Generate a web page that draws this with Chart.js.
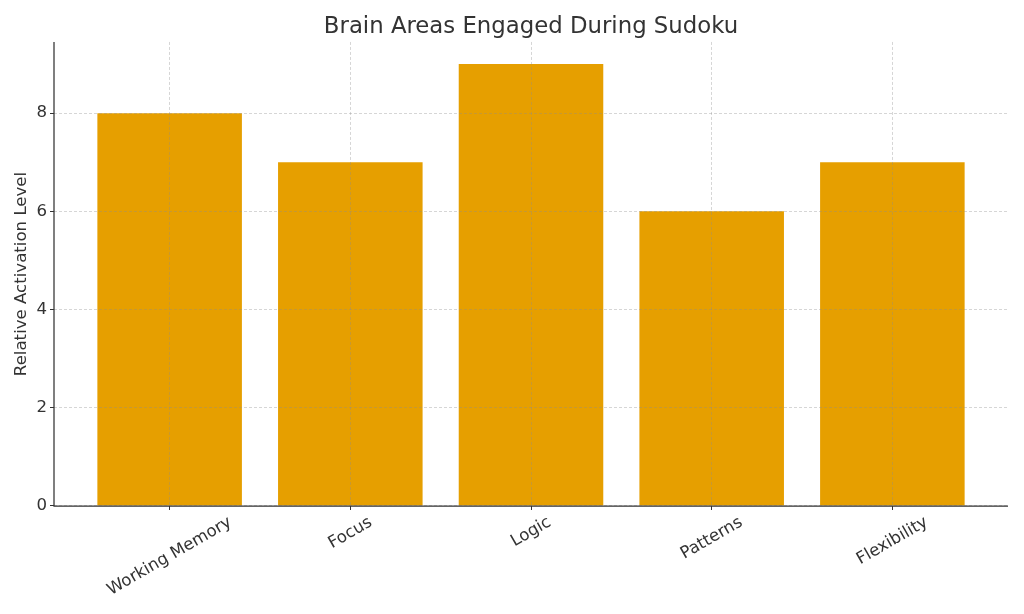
<!DOCTYPE html>
<html>
<head>
<meta charset="utf-8">
<script src="https://cdn.jsdelivr.net/npm/chart.js@4/dist/chart.umd.min.js"></script>
<style>
  html,body{margin:0;padding:0;background:#fff;}
  #wrap{width:1024px;height:614px;}
</style>
</head>
<body>
<div id="wrap"><canvas id="c" width="1024" height="614"></canvas></div>
<script>
const categories = ["Working Memory", "Focus", "Logic", "Patterns", "Flexibility"];
const activation = [8, 7, 9, 6, 7];
const yTicks = [0, 2, 4, 6, 8];

const FONT = "'DejaVu Sans', sans-serif";
const TEXT = '#333333';
const TICKFONT = 16.6;

const axesAndLabels = {
  id: 'axesAndLabels',
  afterDraw(chart) {
    const xs = chart.scales.x;
    const ca = chart.chartArea;
    const ctx = chart.ctx;
    ctx.save();
    // axis spines (left and bottom)
    ctx.strokeStyle = TEXT;
    ctx.lineWidth = 1.25;
    ctx.setLineDash([]);
    ctx.beginPath();
    ctx.moveTo(ca.left, ca.top);
    ctx.lineTo(ca.left, ca.bottom);
    ctx.lineTo(ca.right, ca.bottom);
    ctx.stroke();
    // rotated category labels, centred under each tick
    ctx.font = TICKFONT + 'px ' + FONT;
    ctx.fillStyle = TEXT;
    ctx.textAlign = 'center';
    ctx.textBaseline = 'middle';
    const a = 30 * Math.PI / 180;
    const top = ca.bottom + 8;
    categories.forEach((lab, i) => {
      const w = ctx.measureText(lab).width;
      const h = TICKFONT * 1.0;
      const bh = w * Math.sin(a) + h * Math.cos(a);
      const cx = xs.getPixelForValue(i);
      const cy = top + bh / 2;
      ctx.save();
      ctx.translate(cx, cy);
      ctx.rotate(-a);
      ctx.fillText(lab, 0, 0);
      ctx.restore();
    });
    ctx.restore();
  }
};

const gridOpts = {
  display: true,
  offset: false,
  color: 'rgba(140,140,140,0.45)',
  lineWidth: 0.8,
  drawTicks: true,
  tickLength: 4,
  tickColor: TEXT,
  tickWidth: 1,
  tickBorderDash: [],
  z: 1
};

new Chart(document.getElementById('c'), {
  type: 'bar',
  data: {
    datasets: [{
      data: activation.map((v, i) => ({x: i, y: v})),
      backgroundColor: '#E69F00',
      borderWidth: 0,
      categoryPercentage: 0.8,
      barPercentage: 1.0
    }]
  },
  options: {
    responsive: false,
    animation: false,
    layout: {padding: {left: 0, right: 16, top: 0, bottom: 0}},
    plugins: {
      legend: {display: false},
      tooltip: {enabled: false},
      title: {
        display: true,
        fullSize: false,
        text: 'Brain Areas Engaged During Sudoku',
        color: TEXT,
        font: {family: FONT, size: 22.8, weight: 'normal'},
        padding: {top: 13, bottom: 1.6}
      }
    },
    scales: {
      x: {
        type: 'linear',
        offset: false,
        min: -0.64,
        max: 4.64,
        afterBuildTicks(scale) { scale.ticks = categories.map((c, i) => ({value: i})); },
        afterFit(scale) { scale.height = 108; },
        ticks: {display: false},
        grid: gridOpts,
        border: {display: false, dash: [3, 2]}
      },
      y: {
        min: 0,
        max: 9.45,
        afterBuildTicks(scale) { scale.ticks = yTicks.map(v => ({value: v})); },
        afterFit(scale) { scale.width = 54; },
        ticks: {color: TEXT, font: {family: FONT, size: TICKFONT}, padding: 3},
        grid: gridOpts,
        border: {display: false, dash: [3, 2]},
        title: {
          display: true,
          text: 'Relative Activation Level',
          color: TEXT,
          font: {family: FONT, size: TICKFONT},
          padding: {top: 12, bottom: 0}
        }
      }
    }
  },
  plugins: [axesAndLabels]
});
</script>
</body>
</html>
